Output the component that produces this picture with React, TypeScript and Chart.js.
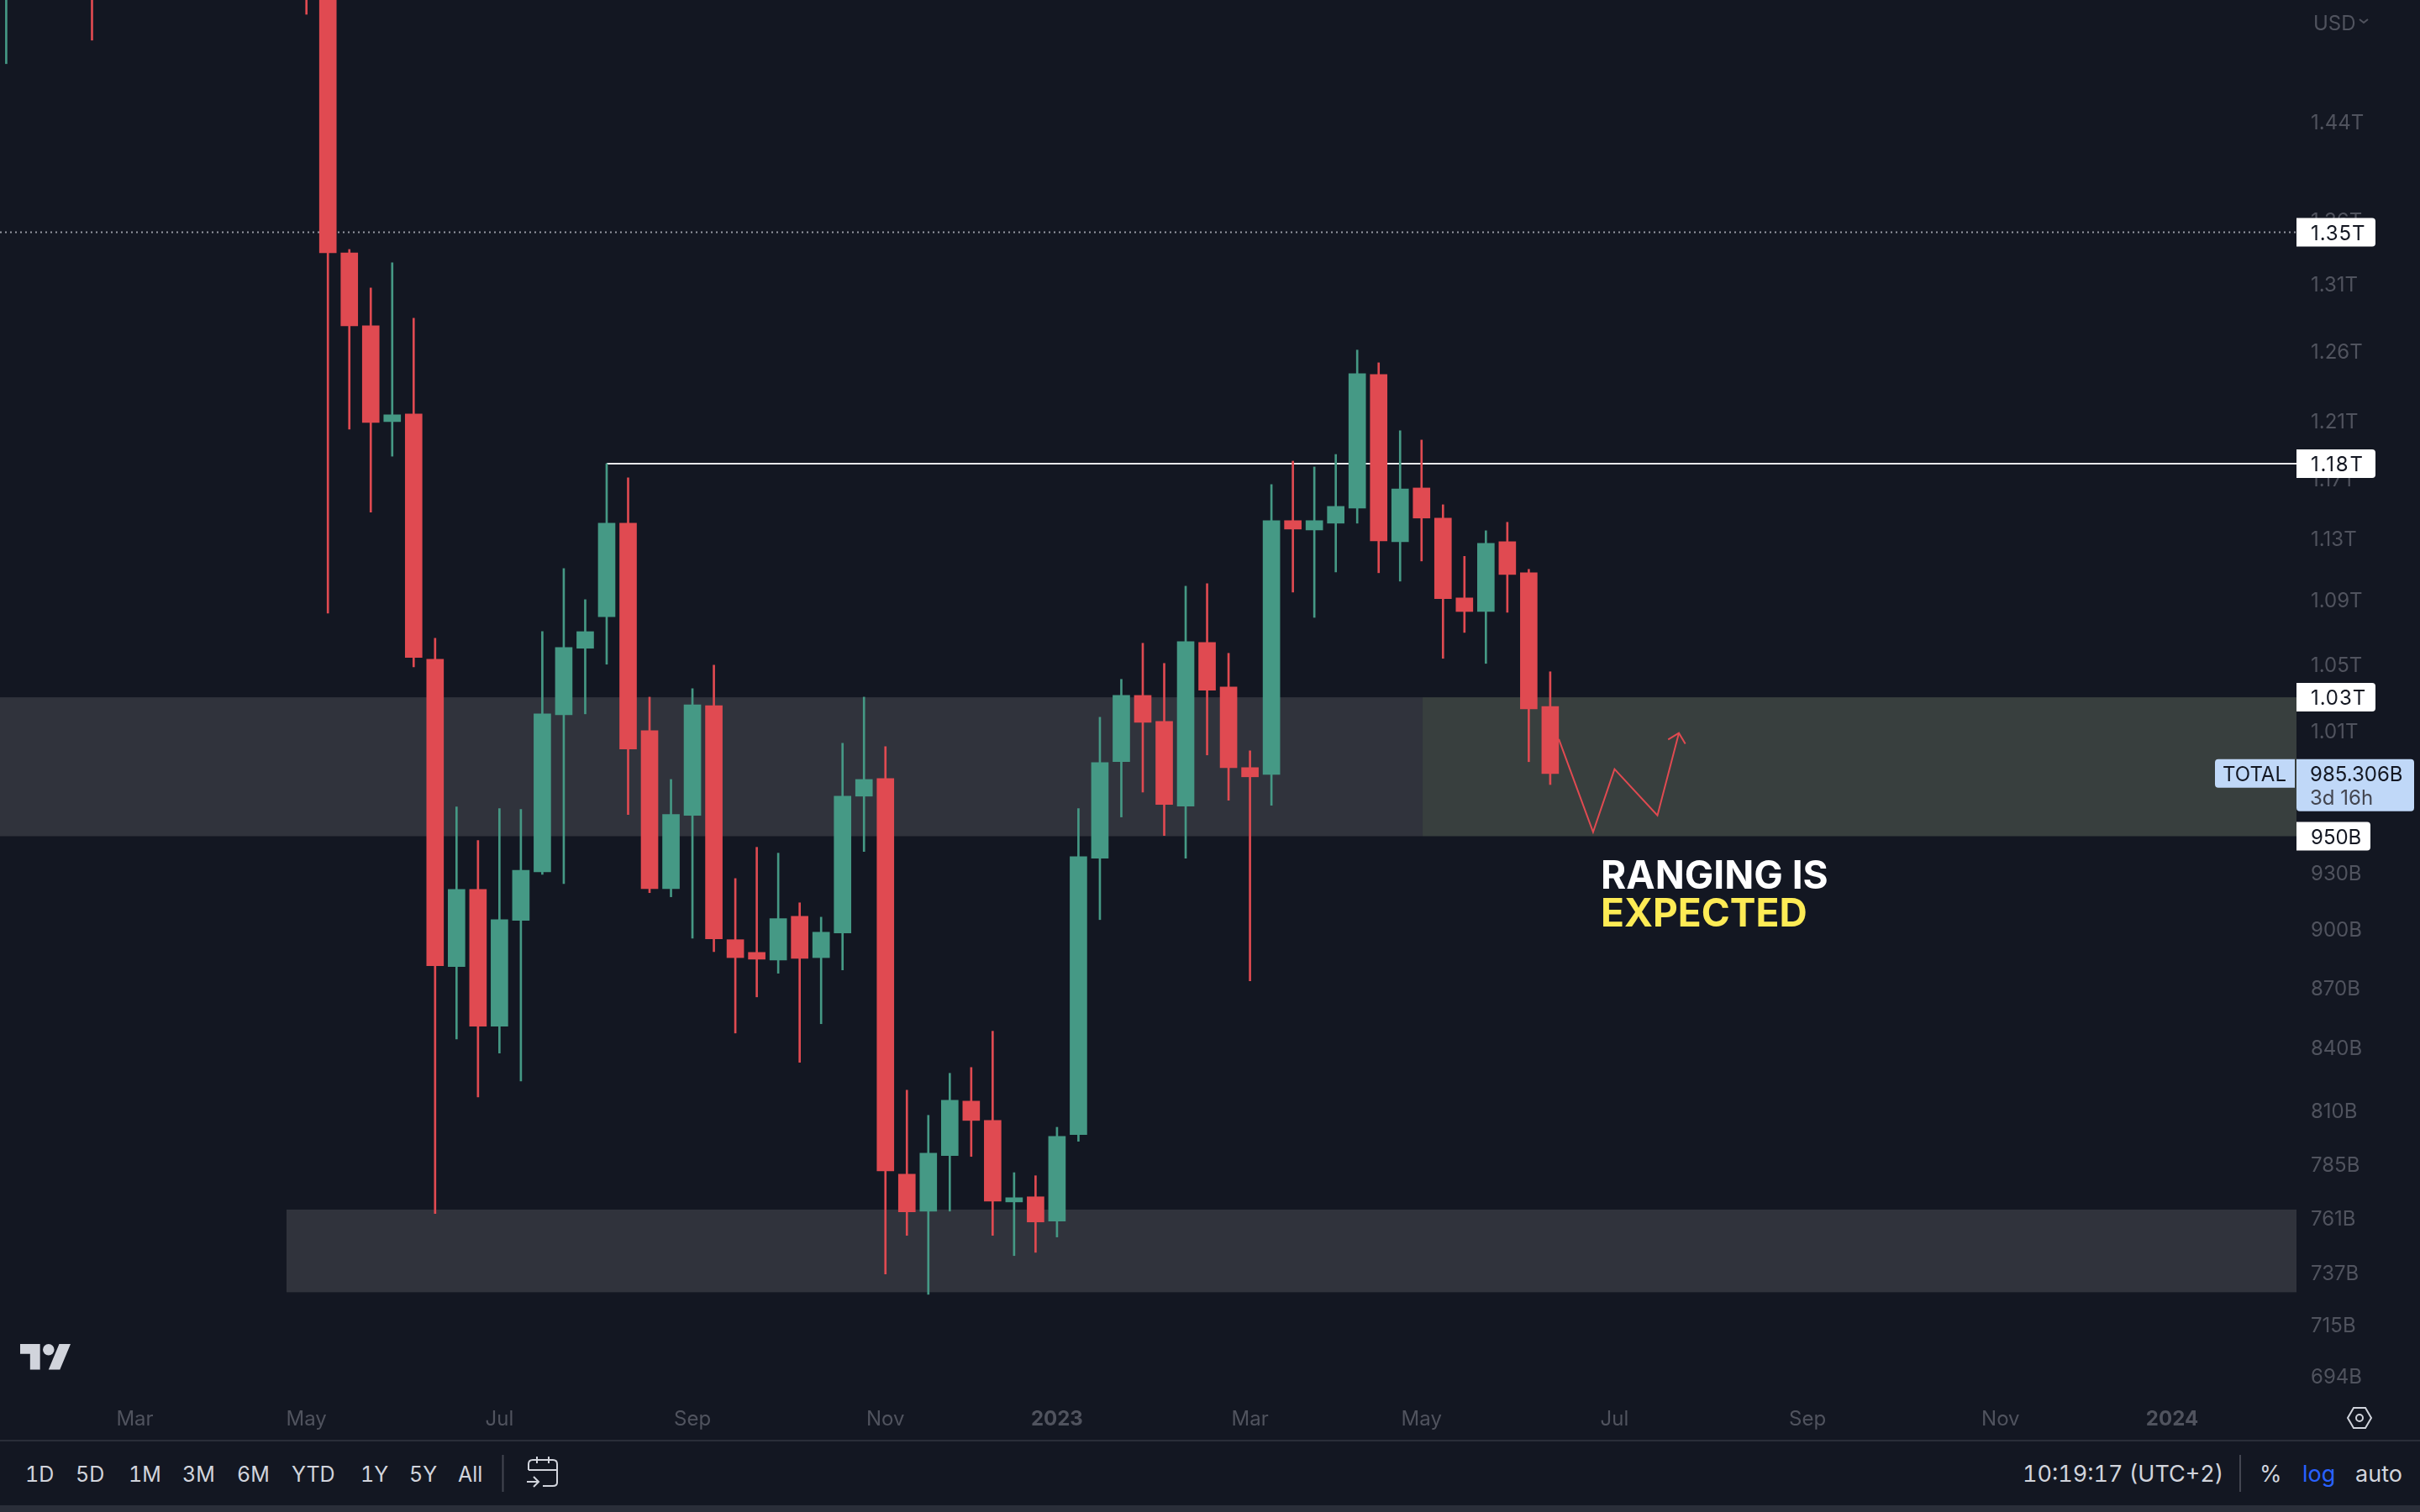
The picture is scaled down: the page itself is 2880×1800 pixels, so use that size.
import { useEffect, useRef } from 'react';
import { Chart, registerables } from 'chart.js';

Chart.register(...registerables);

// weekly TOTAL candles, in billions USD. null = candle is above the visible range
const opens = [1560, null, null, null, 1620, null, null, null, null, null, null, null, null, null, 1650, 1580,
  1334.0, 1278.5, 1209.2, 1214.6, 1053.1, 880.6, 921.1, 850.6, 904.6, 930.5, 1019.6, 1059.8, 1079.5, 1139.8,
  1010.2, 921.5, 961.6, 1025.0, 894.5, 887.9, 884.0, 906.8, 885.2, 898.0, 972.4, 982.4, 780.4, 763.8, 788.9,
  814.3, 805.2, 767.9, 770.2, 759.4, 798.6, 937.9, 992.1, 1031.1, 1015.6, 966.8, 1063.4, 1036.2, 988.7, 984.8,
  1141.5, 1135.3, 1139.8, 1149.9, 1242.8, 1127.6, 1163.4, 1143.2, 1091.3, 1082.7, 1127.6, 1107.4, 1024.5];
const closes = [1600, null, null, null, 1560, null, null, null, null, null, null, null, null, null, 1580, 1334.0,
  1278.5, 1208.6, 1214.0, 1054.1, 881.0, 921.1, 850.6, 905.0, 931.4, 1020.1, 1060.3, 1070.1, 1139.8, 999.4,
  921.5, 962.1, 1025.5, 894.9, 885.2, 884.4, 905.5, 884.8, 898.4, 972.4, 981.9, 781.9, 763.5, 790.0, 814.7,
  805.2, 768.3, 769.8, 759.0, 797.8, 938.8, 991.6, 1031.1, 1015.1, 967.7, 1063.9, 1034.2, 988.7, 983.4, 1141.5,
  1135.9, 1141.5, 1151.0, 1243.4, 1128.1, 1162.8, 1143.2, 1090.8, 1082.7, 1126.5, 1106.3, 1023.0, 985.306];
const highs = [1620, null, null, null, 1650, null, null, null, null, null, null, null, null, null, 1680, 1600,
  1336.6, 1306.9, 1326.3, 1284.2, 1066.0, 966.3, 947.6, 965.4, 964.9, 1070.1, 1110.1, 1090.2, 1180.0, 1170.3,
  1030.1, 981.9, 1035.2, 1049.4, 926.9, 943.9, 940.7, 913.9, 906.3, 1002.8, 1030.1, 1000.8, 819.5, 807.6, 827.6,
  830.4, 848.1, 781.1, 779.7, 802.0, 965.4, 1018.1, 1040.8, 1062.9, 1050.5, 1098.8, 1100.4, 1056.7, 998.4, 1165.7,
  1181.7, 1177.7, 1186.3, 1260.6, 1251.3, 1202.8, 1196.3, 1152.1, 1118.0, 1134.8, 1140.4, 1109.6, 1045.4];
const lows = [1489.2, null, null, null, 1509.7, null, null, null, null, null, null, null, null, null, 1532.6, 1081.7,
  1203.9, 1147.1, 1185.1, 1048.4, 762.7, 844.3, 816.3, 837.4, 823.9, 929.2, 924.2, 1020.1, 1050.0, 962.1,
  919.3, 917.1, 895.3, 888.3, 847.2, 865.2, 877.2, 832.9, 851.8, 878.9, 941.6, 736.4, 753.1, 727.7, 763.8,
  788.5, 753.1, 744.3, 745.7, 752.4, 795.5, 905.0, 960.7, 974.7, 950.4, 937.9, 996.0, 970.1, 873.3, 967.2,
  1095.0, 1079.0, 1107.9, 1139.8, 1107.4, 1102.0, 1115.0, 1053.6, 1069.6, 1050.5, 1082.2, 992.1, 979.0];

const priceTicks = [1440, 1360, 1310, 1260, 1210, 1170, 1130, 1090, 1050, 1010, 930, 900, 870, 840, 810, 785, 761, 737, 715, 694];
const monthLabels = ['Mar', 'May', 'Jul', 'Sep', 'Nov', '2023', 'Mar', 'May', 'Jul', 'Sep', 'Nov', '2024'];
const monthWeeks = [6, 14, 23, 32, 41, 49, 58, 66, 75, 84, 93, 101];

// drawn forecast, week index + price
const pathWeeks = [72.4, 74, 75, 77, 78];
const pathPrices = [1005.2, 952.3, 987.8, 961.6, 1008.8];
const arrowWeeks = [77.5, 78, 78.3];
const arrowPrices = [1005.0, 1008.8, 1002.5];

const lastPrice = 985.306;
const resistance = 1180;
const resistanceStart = 28;
const dottedLevel = 1350;

const xMin = -0.29;
const xMax = 106.8;
const yMin = 683.2;
const yMax = 1545.4;

const BG = '#131722';
const UP = '#459985';
const DOWN = '#E04A51';
const AXIS = '#50535E';
const FONT = 'Inter, "Noto Sans", sans-serif';

const zones = [
  { from: xMin, to: 66.05, top: 1030, bottom: 950, color: '#30333C' },
  { from: 66.05, to: xMax, top: 1030, bottom: 950, color: '#383F3E' },
  { from: 13.07, to: xMax, top: 764.5, bottom: 728.6, color: '#30333C' },
];

const priceTags = [
  { value: 1350, text: '1.35T', w: 94 },
  { value: 1180, text: '1.18T', w: 94 },
  { value: 1030, text: '1.03T', w: 94 },
  { value: 950, text: '950B', w: 88 },
];

const notes = [
  { week: 74.36, price: 921.4, text: 'RANGING IS', color: '#FFFFFF' },
  { week: 74.36, price: 901.5, text: 'EXPECTED', color: '#FDEB55' },
];

const rangeButtons = ['1D', '5D', '1M', '3M', '6M', 'YTD', '1Y', '5Y', 'All'];
const rangeLeft = [30, 90, 153, 217, 282, 347, 429, 487, 545];

const formatPrice = (v: number) => (v >= 1000 ? (v / 1000).toFixed(2) + 'T' : v + 'B');

function roundedTag(ctx: CanvasRenderingContext2D, x: number, y: number, w: number, h: number, radii: number[], fill: string) {
  ctx.fillStyle = fill;
  ctx.beginPath();
  ctx.roundRect(x, y, w, h, radii);
  ctx.fill();
}

const zonesPlugin = {
  id: 'zones',
  beforeDraw(chart: any) {
    // Inter sits a little high with a middle baseline
    chart.scales.y.getLabelItems().forEach((item: any) => {
      item.options.translation[1] += 2;
    });
  },
  beforeDatasetsDraw(chart: any) {
    const { ctx, scales: { x, y } } = chart;
    ctx.save();
    zones.forEach((z) => {
      const left = x.getPixelForValue(z.from);
      const top = y.getPixelForValue(z.top);
      ctx.fillStyle = z.color;
      ctx.fillRect(left, top, x.getPixelForValue(z.to) - left, y.getPixelForValue(z.bottom) - top);
    });
    ctx.restore();
  },
};

const tagsPlugin = {
  id: 'tags',
  afterDraw(chart: any) {
    const { ctx, chartArea, scales: { x, y } } = chart;
    const right = chartArea.right;
    ctx.save();
    ctx.textBaseline = 'middle';

    priceTags.forEach((t) => {
      const py = y.getPixelForValue(t.value);
      roundedTag(ctx, right, py - 17, t.w, 34, [0, 4, 4, 0], '#FFFFFF');
      ctx.fillStyle = '#131722';
      ctx.font = `24px ${FONT}`;
      // Inter's 1 is narrow on canvas, the original digits are tabular
      ctx.letterSpacing = `${(t.text.split('1').length - 1) * 0.9}px`;
      ctx.fillText(t.text, right + 17, py + 2);
      ctx.letterSpacing = '0px';
    });

    // last price box + series name
    const py = y.getPixelForValue(lastPrice);
    roundedTag(ctx, right, py - 17, 140, 62, [0, 4, 4, 4], '#C0D8F8');
    roundedTag(ctx, right - 97, py - 17, 95, 34, [4, 0, 0, 4], '#C0D8F8');
    ctx.fillStyle = '#131722';
    ctx.font = `24px ${FONT}`;
    ctx.fillText('TOTAL', right - 88, py + 2);
    ctx.fillText(lastPrice.toFixed(3) + 'B', right + 16, py + 2);
    ctx.fillStyle = '#434651';
    ctx.fillText('3d 16h', right + 16, py + 30);

    ctx.fillStyle = AXIS;
    ctx.fillText('USD', right + 20, 29);
    ctx.strokeStyle = AXIS;
    ctx.lineWidth = 2;
    ctx.beginPath();
    ctx.moveTo(right + 75, 23);
    ctx.lineTo(right + 80, 27);
    ctx.lineTo(right + 85, 23);
    ctx.stroke();

    ctx.textBaseline = 'alphabetic';
    ctx.font = `700 46px ${FONT}`;
    notes.forEach((n) => {
      ctx.fillStyle = n.color;
      ctx.fillText(n.text, x.getPixelForValue(n.week), y.getPixelForValue(n.price));
    });
    ctx.restore();
  },
};

export default function App() {
  const canvasRef = useRef<HTMLCanvasElement>(null);

  useEffect(() => {
    if (!canvasRef.current) return;
    document.body.style.margin = '0';
    document.body.style.background = BG;

    const idx = opens.map((_, i) => i).filter((i) => opens[i] !== null);
    const colors = idx.map((i) => ((closes[i] as number) >= (opens[i] as number) ? UP : DOWN));

    const chart = new Chart(canvasRef.current, {
      type: 'bar',
      data: {
        datasets: [
          {
            label: 'body',
            data: idx.map((i) => ({ x: i, y: [opens[i], closes[i]] })),
            backgroundColor: colors,
            barThickness: 20,
            grouped: false,
            order: 1,
          },
          {
            label: 'wick',
            data: idx.map((i) => ({ x: i, y: [lows[i], highs[i]] })),
            backgroundColor: colors,
            barThickness: 2,
            grouped: false,
            order: 2,
          },
          {
            type: 'line',
            label: 'forecast',
            data: pathWeeks.map((w, i) => ({ x: w, y: pathPrices[i] })),
            borderColor: DOWN,
            borderWidth: 2,
            pointRadius: 0,
            order: 0,
          },
          {
            type: 'line',
            label: 'arrow',
            data: arrowWeeks.map((w, i) => ({ x: w, y: arrowPrices[i] })),
            borderColor: DOWN,
            borderWidth: 2,
            pointRadius: 0,
            order: 0,
          },
          {
            type: 'line',
            label: 'resistance',
            data: [{ x: resistanceStart, y: resistance }, { x: xMax, y: resistance }],
            borderColor: '#E8E8EA',
            borderWidth: 2,
            pointRadius: 0,
            order: 3,
          },
          {
            type: 'line',
            label: 'level',
            data: [{ x: xMin, y: dottedLevel }, { x: xMax, y: dottedLevel }],
            borderColor: '#9598A1',
            borderWidth: 2,
            borderDash: [2, 4],
            pointRadius: 0,
            order: 3,
          },
        ] as any,
      },
      options: {
        animation: false,
        responsive: false,
        devicePixelRatio: 1,
        layout: { padding: 0, autoPadding: false },
        plugins: { legend: { display: false }, tooltip: { enabled: false } },
        scales: {
          x: {
            type: 'linear',
            offset: false,
            min: xMin,
            max: xMax,
            grid: { display: false, drawTicks: false },
            border: { display: false },
            afterBuildTicks: (scale: any) => {
              scale.ticks = monthWeeks.map((value) => ({ value }));
            },
            afterFit: (scale: any) => {
              scale.height = 45;
              scale.paddingLeft = 0;
              scale.paddingRight = 0;
            },
            ticks: {
              autoSkip: false,
              maxRotation: 0,
              padding: 5,
              color: AXIS,
              font: (ctx: any) => ({
                family: FONT,
                size: 24,
                weight: monthWeeks.indexOf(ctx.tick?.value) === 5 || monthWeeks.indexOf(ctx.tick?.value) === 11 ? 'bold' : 'normal',
              }),
              callback: (value: any) => monthLabels[monthWeeks.indexOf(value)],
            },
          },
          y: {
            type: 'logarithmic',
            position: 'right',
            min: yMin,
            max: yMax,
            grid: { display: false, drawTicks: false },
            border: { display: false },
            afterBuildTicks: (scale: any) => {
              scale.ticks = priceTicks.map((value) => ({ value }));
            },
            afterFit: (scale: any) => {
              scale.width = 147;
              scale.paddingTop = 0;
              scale.paddingBottom = 0;
            },
            ticks: {
              autoSkip: false,
              padding: 17,
              color: AXIS,
              font: { family: FONT, size: 24 },
              callback: (value: any) => formatPrice(value),
            },
          },
        },
      } as any,
      plugins: [zonesPlugin, tagsPlugin],
    });

    return () => chart.destroy();
  }, []);

  const toolbarText: any = { position: 'absolute', top: 1740, lineHeight: '30px', fontSize: 25, fontFamily: FONT, color: '#D1D4DC', whiteSpace: 'nowrap', fontVariantNumeric: 'tabular-nums' };

  return (
    <div style={{ position: 'fixed', left: 0, top: 0, width: 2880, height: 1800, background: BG, overflow: 'hidden' }}>
      <canvas ref={canvasRef} width={2880} height={1715} style={{ display: 'block' }} />
      <div style={{ position: 'absolute', left: 0, top: 1714, width: 2880, height: 2, background: '#2A2E39' }} />
      <div style={{ position: 'absolute', left: 0, top: 1792, width: 2880, height: 8, background: '#2A2E39' }} />
      {rangeButtons.map((b, i) => (
        <span key={b} style={{ ...toolbarText, left: rangeLeft[i] }}>{b}</span>
      ))}
      <span style={{ ...toolbarText, left: 2407, fontSize: 27 }}>10:19:17 (UTC+2)</span>
      <span style={{ ...toolbarText, left: 2689, fontSize: 27 }}>%</span>
      <span style={{ ...toolbarText, left: 2740, fontSize: 27, color: '#2962FF' }}>log</span>
      <span style={{ ...toolbarText, left: 2803, fontSize: 27 }}>auto</span>
      <svg width={2880} height={1800} style={{ position: 'absolute', left: 0, top: 0, pointerEvents: 'none' }}>
        <g transform="translate(24 1593.2) scale(1.69)" fill="#D1D4DC">
          <path d="M14 22H7V11H0V4h14v18zM28 22h-8l7.5-18h8L28 22z" />
          <circle cx="20" cy="8" r="4" />
        </g>
        <g fill="none" stroke="#D1D4DC" strokeWidth="2">
          <path d="M598.5 1732V1776M2666 1732V1776" stroke="#434651" />
          <path d="M629 1750V1743q0-5 5-5H658q5 0 5 5V1765q0 4-5 4H646M629 1750H663M639 1734V1742M653 1734V1742M627 1764H641M635 1758L641 1764L635 1770" />
          <path d="M2794 1688L2801 1676H2815L2822 1688L2815 1700H2801Z" />
          <circle cx="2808" cy="1688" r="4" />
        </g>
      </svg>
    </div>
  );
}
